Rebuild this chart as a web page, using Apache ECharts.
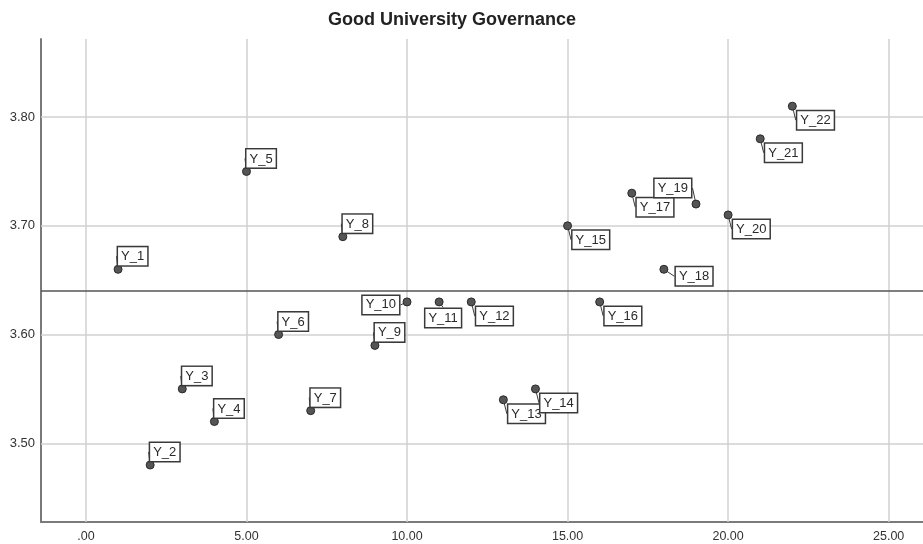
<!DOCTYPE html>
<html>
<head>
<meta charset="utf-8">
<script src="https://cdn.jsdelivr.net/npm/echarts@6/dist/echarts.min.js"></script>
<style>
html,body{margin:0;padding:0;background:#fff;}
#chart{width:923px;height:544px;}
</style>
</head>
<body>
<div id="chart"></div>
<script>
// ---- data ----
const pointNames = ['Y_1','Y_2','Y_3','Y_4','Y_5','Y_6','Y_7','Y_8','Y_9','Y_10','Y_11',
  'Y_12','Y_13','Y_14','Y_15','Y_16','Y_17','Y_18','Y_19','Y_20','Y_21','Y_22'];
const xValues = [1,2,3,4,5,6,7,8,9,10,11,12,13,14,15,16,17,18,19,20,21,22];
const yValues = [3.66,3.48,3.55,3.52,3.75,3.60,3.53,3.69,3.59,3.63,3.63,
  3.63,3.54,3.55,3.70,3.63,3.73,3.66,3.72,3.71,3.78,3.81];
// label placement per point: ur=up-right, dr=down-right, l=left, b=below, ul=up-left, r=right
const labelPlacement = ['ur','ur','ur','ur','ur','ur','ur','ur','ur','l','b',
  'dr','dr','dr','dr','dr','dr','r','ul','dr','dr','dr'];
const meanValue = 3.64;
const xTickValues = [0,5,10,15,20,25];
const xTickLabels = ['.00','5.00','10.00','15.00','20.00','25.00'];
const yTickValues = [3.5,3.6,3.7,3.8];
const yTickLabels = ['3.50','3.60','3.70','3.80'];
const titleText = 'Good University Governance';

const chart = echarts.init(document.getElementById('chart'), null, {renderer:'canvas'});

const seriesData = xValues.map((x, i) => ({ name: pointNames[i], value: [x, yValues[i]] }));

const placementRule = {
  ur: {dx: 0,  dy: -4, align: 'left',   verticalAlign: 'bottom'},
  dr: {dx: 5,  dy: 5,  align: 'left',   verticalAlign: 'top'},
  l:  {dx: -8, dy: 3,  align: 'right',  verticalAlign: 'middle'},
  b:  {dx: 4,  dy: 7,  align: 'center', verticalAlign: 'top'},
  ul: {dx: -5, dy: -7, align: 'right',  verticalAlign: 'bottom'},
  r:  {dx: 12, dy: 7,  align: 'left',   verticalAlign: 'middle'}
};

function findLabel(values, labels, v) {
  for (let i = 0; i < values.length; i++) {
    if (Math.abs(values[i] - v) < 1e-6) return labels[i];
  }
  return '';
}

const gridLineStyle = {color: '#d0d0d0', width: 1.5, type: 'solid'};

const option = {
  backgroundColor: '#fff',
  animation: false,
  title: {
    text: titleText,
    left: 323,
    top: 6,
    textStyle: {fontFamily: 'Liberation Sans', fontSize: 18, fontWeight: 'bold', color: '#222'}
  },
  grid: {left: 41, right: 0, top: 39, bottom: 22, containLabel: false},
  xAxis: {
    type: 'value',
    min: -1.4,
    max: 26.07,
    axisLine: {show: true, onZero: false, lineStyle: {color: '#7a7a7a', width: 2}},
    axisTick: {show: false},
    splitLine: {show: false},
    axisLabel: {
      show: true,
      showMinLabel: false,
      showMaxLabel: false,
      margin: 8,
      color: '#333',
      fontFamily: 'Liberation Sans',
      fontSize: 12.5,
      formatter: function (v) { return findLabel(xTickValues, xTickLabels, v); }
    }
  },
  yAxis: {
    type: 'value',
    min: 3.4276,
    max: 3.8718,
    axisLine: {show: true, onZero: false, lineStyle: {color: '#7a7a7a', width: 2}},
    axisTick: {show: false},
    splitLine: {show: false},
    axisLabel: {
      showMinLabel: false,
      showMaxLabel: false,
      margin: 6,
      color: '#333',
      fontFamily: 'Liberation Sans',
      fontSize: 13,
      formatter: function (v) { return findLabel(yTickValues, yTickLabels, v); }
    }
  },
  series: [
    {
      // grid lines at the tick values
      type: 'line',
      data: [],
      markLine: {
        silent: true,
        symbol: 'none',
        label: {show: false},
        lineStyle: gridLineStyle,
        data: xTickValues.map(v => ({xAxis: v})).concat(yTickValues.map(v => ({yAxis: v})))
      },
      z: 1
    },
    {
      type: 'scatter',
      data: seriesData,
      symbol: 'circle',
      symbolSize: 8,
      itemStyle: {color: '#555', borderColor: '#2a2a2a', borderWidth: 1, opacity: 1},
      label: {
        show: true,
        position: 'inside',
        formatter: '{b}',
        color: '#2a2a2a',
        fontFamily: 'Liberation Sans',
        fontSize: 13,
        backgroundColor: '#fff',
        borderColor: '#3a3a3a',
        borderWidth: 1.5,
        padding: [3, 3, 2, 3]
      },
      labelLine: {show: true, lineStyle: {color: '#3a3a3a', width: 1}},
      labelLayout: function (params) {
        const rule = placementRule[labelPlacement[params.dataIndex]];
        const cx = params.rect.x + params.rect.width / 2;
        const cy = params.rect.y + params.rect.height / 2;
        return {
          x: cx + rule.dx,
          y: cy + rule.dy,
          align: rule.align,
          verticalAlign: rule.verticalAlign
        };
      },
      markLine: {
        silent: true,
        symbol: 'none',
        label: {show: false},
        lineStyle: {color: '#555', width: 1.5, type: 'solid'},
        data: [{yAxis: meanValue}]
      },
      z: 5
    }
  ]
};

chart.setOption(option);
</script>
</body>
</html>
